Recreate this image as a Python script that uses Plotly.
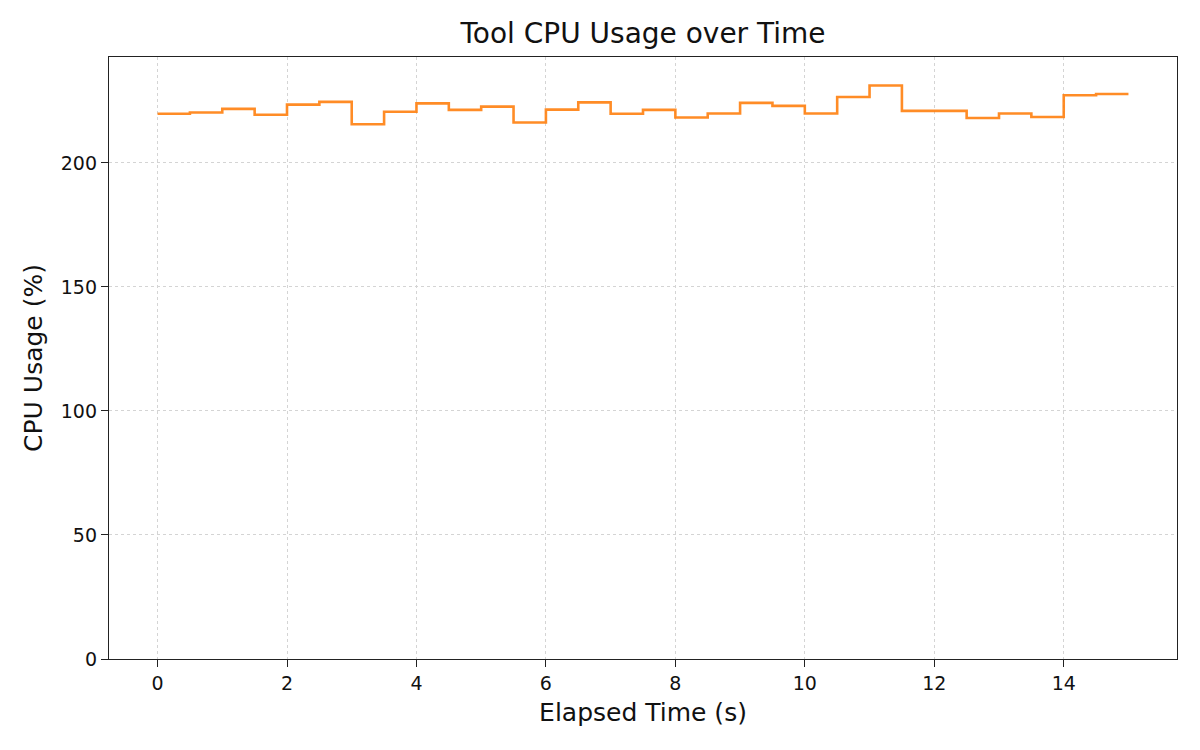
"""
tool_cpu_usage_over_time
"""

import plotly.graph_objects as go

# sample times (s) and CPU usage (%)
ELAPSED_S = [
    0.0, 0.5, 1.0, 1.5, 2.0, 2.5, 3.0, 3.5, 4.0, 4.5,
    5.0, 5.5, 6.0, 6.5, 7.0, 7.5, 8.0, 8.5, 9.0, 9.5,
    10.0, 10.5, 11.0, 11.5, 12.0, 12.5, 13.0, 13.5, 14.0, 14.5,
    15.0,
]
CPU_PCT = [
    219.8, 220.3, 221.8, 219.4, 223.5, 224.6, 215.6, 220.6, 224.0, 221.4,
    222.7, 216.3, 221.5, 224.4, 219.8, 221.4, 218.3, 219.9, 224.2, 223.0,
    219.9, 226.6, 231.2, 221.0, 221.0, 218.1, 219.9, 218.5, 227.3, 227.8,
    227.8,
]
X_TICKS = [0, 2, 4, 6, 8, 10, 12, 14]
Y_TICKS = [0, 50, 100, 150, 200]

FONT = "DejaVu Sans"
LINE_CLR = "rgba(255,127,14,0.9)"
GRID_CLR = "#d4d4d4"


def create_step_chart():
    fig = go.Figure()
    fig.add_trace(
        go.Scatter(
            x=ELAPSED_S,
            y=CPU_PCT,
            mode="lines",
            line=dict(color=LINE_CLR, width=2.6, shape="hv"),
            hovertemplate="%{x} s<br>%{y:.1f} %<extra></extra>",
        )
    )

    axis_common = dict(
        showline=True,
        linecolor="#222222",
        linewidth=1.4,
        mirror=True,
        ticks="outside",
        ticklen=7,
        tickwidth=1.4,
        tickcolor="#222222",
        showgrid=True,
        gridcolor=GRID_CLR,
        griddash="dot",
        gridwidth=1,
        zeroline=False,
        tickfont=dict(family=FONT, size=19, color="#111111"),
    )

    # page body adds an 8px offset, so the figure is 8px smaller on each side
    fig.update_layout(
        width=1192,
        height=742,
        paper_bgcolor="white",
        plot_bgcolor="white",
        showlegend=False,
        margin=dict(l=101, r=23, t=49, b=91),
        title=dict(
            text="Tool CPU Usage over Time",
            x=0.5,
            xref="paper",
            xanchor="center",
            y=1,
            yref="paper",
            yanchor="bottom",
            pad=dict(b=14),
            font=dict(family=FONT, size=28, color="#111111"),
        ),
        xaxis=dict(
            range=[-0.75, 15.75],
            tickvals=X_TICKS,
            title=dict(
                text="Elapsed Time (s)",
                font=dict(family=FONT, size=25, color="#111111"),
                standoff=10,
            ),
            **axis_common,
        ),
        yaxis=dict(
            range=[0, 242.7],
            tickvals=Y_TICKS,
            title=dict(
                text="CPU Usage (%)",
                font=dict(family=FONT, size=25, color="#111111"),
                standoff=10,
            ),
            **axis_common,
        ),
    )
    return fig


def main():
    fig = create_step_chart()
    fig.write_html("out.html")


if __name__ == "__main__":
    main()
